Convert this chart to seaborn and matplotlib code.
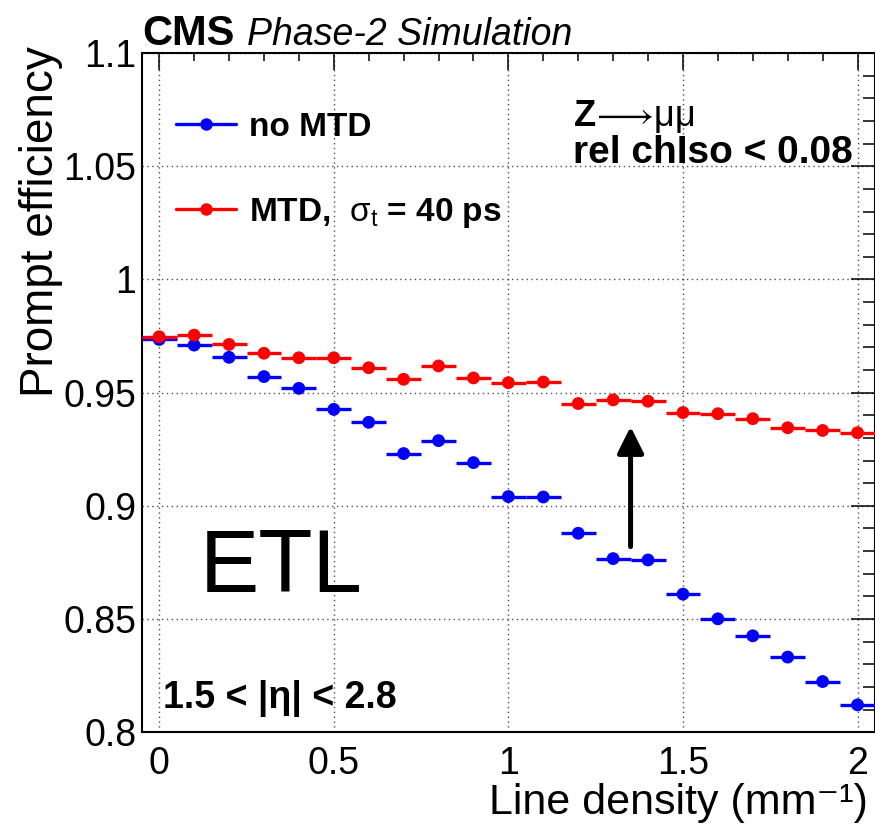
import numpy as np
import pandas as pd
import seaborn as sns
import matplotlib.pyplot as plt
from matplotlib.lines import Line2D
from matplotlib.ticker import MultipleLocator

# Line density bins (mm^-1), bin width 0.1
line_density = [0.0, 0.1, 0.2, 0.3, 0.4, 0.5, 0.6, 0.7, 0.8, 0.9, 1.0,
                1.1, 1.2, 1.3, 1.4, 1.5, 1.6, 1.7, 1.8, 1.9, 2.0]
bin_half_width = 0.05

eff_no_mtd = [0.9735, 0.9710, 0.9656, 0.9571, 0.9519, 0.9426, 0.9369, 0.9231,
              0.9288, 0.9191, 0.9041, 0.9039, 0.8879, 0.8767, 0.8761, 0.8610,
              0.8501, 0.8426, 0.8332, 0.8224, 0.8121]
eff_mtd = [0.9747, 0.9754, 0.9713, 0.9674, 0.9654, 0.9654, 0.9610, 0.9559,
           0.9618, 0.9565, 0.9544, 0.9547, 0.9452, 0.9468, 0.9462, 0.9412,
           0.9407, 0.9385, 0.9345, 0.9333, 0.9323]

series_names = ["no MTD", r"MTD,  $\mathrm{\sigma_{t}}$ = 40 ps"]
series_colors = ["blue", "red"]

arrow_x = 1.35
arrow_from, arrow_to = 0.882, 0.935

df = pd.DataFrame({
    "density": line_density * 2,
    "eff": eff_no_mtd + eff_mtd,
    "sample": [series_names[0]] * len(line_density) + [series_names[1]] * len(line_density),
})

sns.set_theme(style="white")
plt.rcParams["font.family"] = ["Liberation Sans", "DejaVu Sans"]
plt.rcParams["mathtext.fontset"] = "custom"
plt.rcParams["mathtext.rm"] = "Liberation Sans"
plt.rcParams["mathtext.it"] = "Liberation Sans:italic"
plt.rcParams["mathtext.bf"] = "Liberation Sans:bold"
for key in ["text.color", "axes.labelcolor", "xtick.color", "ytick.color", "axes.edgecolor"]:
    plt.rcParams[key] = "black"

fig = plt.figure(figsize=(8.75, 8.34), dpi=100)
ax = fig.add_axes([0.162, 0.122, 0.838, 0.8144])

# horizontal bin-width bars
for vals, col in zip([eff_no_mtd, eff_mtd], series_colors):
    ax.errorbar(line_density, vals, xerr=bin_half_width, fmt="none",
                ecolor=col, elinewidth=2.4, capsize=0, zorder=3)

sns.scatterplot(data=df, x="density", y="eff", hue="sample",
                palette=dict(zip(series_names, series_colors)),
                s=85, linewidth=0, legend=False, ax=ax, zorder=4)

ax.set_xlim(-0.05, 2.05)
ax.set_ylim(0.8, 1.1)

ax.xaxis.set_minor_locator(MultipleLocator(0.1))
ax.yaxis.set_minor_locator(MultipleLocator(0.01))
ax.set_xticks([0, 0.5, 1, 1.5, 2])
ax.set_xticklabels(["0", "0.5", "1", "1.5", "2"])
ax.set_yticks([0.8, 0.85, 0.9, 0.95, 1.0, 1.05, 1.1])
ax.set_yticklabels(["0.8", "0.85", "0.9", "0.95", "1", "1.05", "1.1"])

ax.tick_params(which="both", direction="in", top=True, right=True,
               width=1.1, labelsize=27)
ax.tick_params(axis="x", which="major", length=12, pad=10)
ax.tick_params(axis="x", which="minor", length=6)
ax.tick_params(axis="y", which="major", length=17, pad=4)
ax.tick_params(axis="y", which="minor", length=8.5)
for sp in ax.spines.values():
    sp.set_linewidth(1.5)

ax.grid(True, which="major", color="0.3", linestyle=(0, (1, 2.5)), linewidth=1.0)
ax.set_axisbelow(True)

ax.set_xlabel("Line density (mm⁻¹)", fontsize=31, loc="right")
ax.xaxis.set_label_coords(0.99, -0.075)
ax.set_ylabel("Prompt efficiency", fontsize=33, loc="top")
ax.yaxis.set_label_coords(-0.107, 1.01)

# CMS header
ax.text(0.0, 1.012, "CMS", transform=ax.transAxes, fontsize=30,
        fontweight="bold", va="baseline", ha="left")
ax.text(0.1436, 1.012, "Phase-2 Simulation", transform=ax.transAxes,
        fontsize=27, fontstyle="italic", va="baseline", ha="left")

# legend
handles = [Line2D([], [], color=c, lw=2.4, marker="o", markersize=9,
                  markeredgewidth=0) for c in series_colors]
leg = ax.legend(handles, series_names, loc="upper left",
                bbox_to_anchor=(0.0064, 0.958), frameon=False,
                handlelength=1.8, handletextpad=0.38, labelspacing=1.6,
                prop={"size": 24, "weight": "bold"})

ax.text(0.588, 0.893, r"$\mathbf{Z}\!\longrightarrow\!\mathrm{μμ}$",
        transform=ax.transAxes, fontsize=26, va="baseline", ha="left")
ax.text(0.588, 0.838, "rel chIso < 0.08", transform=ax.transAxes, fontsize=28,
        fontweight="bold", va="baseline", ha="left")
ax.text(0.029, 0.036, "1.5 < |η| < 2.8", transform=ax.transAxes, fontsize=27,
        fontweight="bold", va="baseline", ha="left")
ax.text(0.0795, 0.2066, "ETL", transform=ax.transAxes, fontsize=64,
        va="baseline", ha="left")

ax.annotate("", xy=(arrow_x, arrow_to), xytext=(arrow_x, arrow_from),
            arrowprops=dict(arrowstyle="-|>", lw=3.6, color="black",
                            mutation_scale=40, shrinkA=0, shrinkB=0))

fig.savefig("out.png", dpi=100)
